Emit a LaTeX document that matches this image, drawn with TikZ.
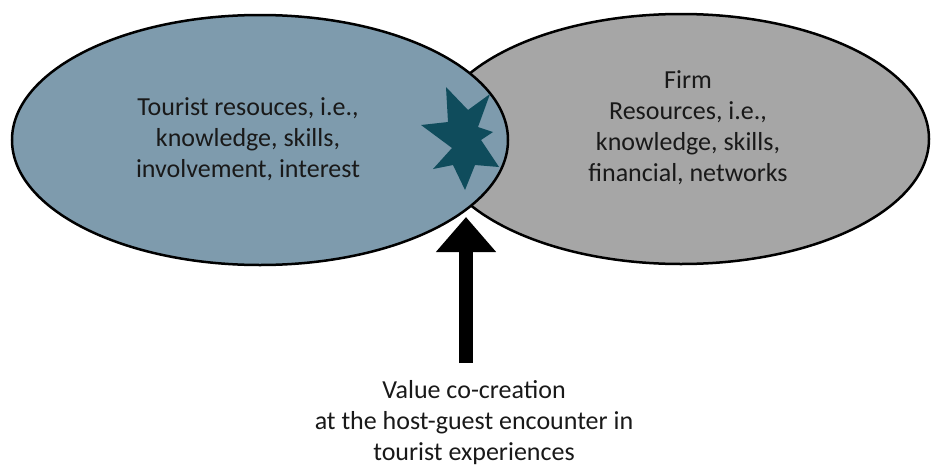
\documentclass[tikz,border=0pt]{standalone}
\usepackage{fontspec}
\setmainfont{Carlito}
\usetikzlibrary{shapes.geometric,arrows.meta}
\definecolor{tourist}{RGB}{126,155,173}
\definecolor{firm}{RGB}{166,166,166}
\definecolor{spark}{RGB}{15,76,92}
\tikzset{
  blob/.style={ellipse, draw, line width=2.5pt, inner sep=0pt,
    minimum width=496pt, minimum height=250pt},
  lbl/.style={align=center, inner sep=0pt, text=black!90,
    font=\fontsize{26}{31}\selectfont},
  bigarrow/.style={line width=14pt, -{Triangle[length=35pt,width=58pt]}}
}

\begin{document}
\begin{tikzpicture}[x=1pt,y=-1pt]

  \useasboundingbox (0,0) rectangle (932,466);

  % Resources
  % =========
  \node[blob, fill=firm] (firm) at (681,139) {};
  \node[blob, fill=tourist] (tourist) at (260,140) {};

  \node[lbl] (touristtxt) at (248,139)
    {Tourist resouces, i.e.,\\ knowledge, skills,\\ involvement, interest};
  \node[lbl] (firmtxt) at (688,128)
    {Firm\\ Resources, i.e.,\\ knowledge, skills,\\ financial, networks};

  % Encounter
  % =========
  \fill[spark] (446,87) -- (468,110) -- (490,94) -- (478,127)
    -- (493,132) -- (481,140) -- (499,167) -- (475,165)
    -- (465,190) -- (453,165) -- (433,169) -- (452,148)
    -- (421,125) -- (448,122) -- cycle;

  \node[lbl] (value) at (474,423)
    {Value co-creation\\ at the host-guest encounter in\\ tourist experiences};

  \coordinate (foot) at (466,363);
  \coordinate (meet) at (466,217);
  \draw[bigarrow] (foot) -- (meet);

\end{tikzpicture}
\end{document}
